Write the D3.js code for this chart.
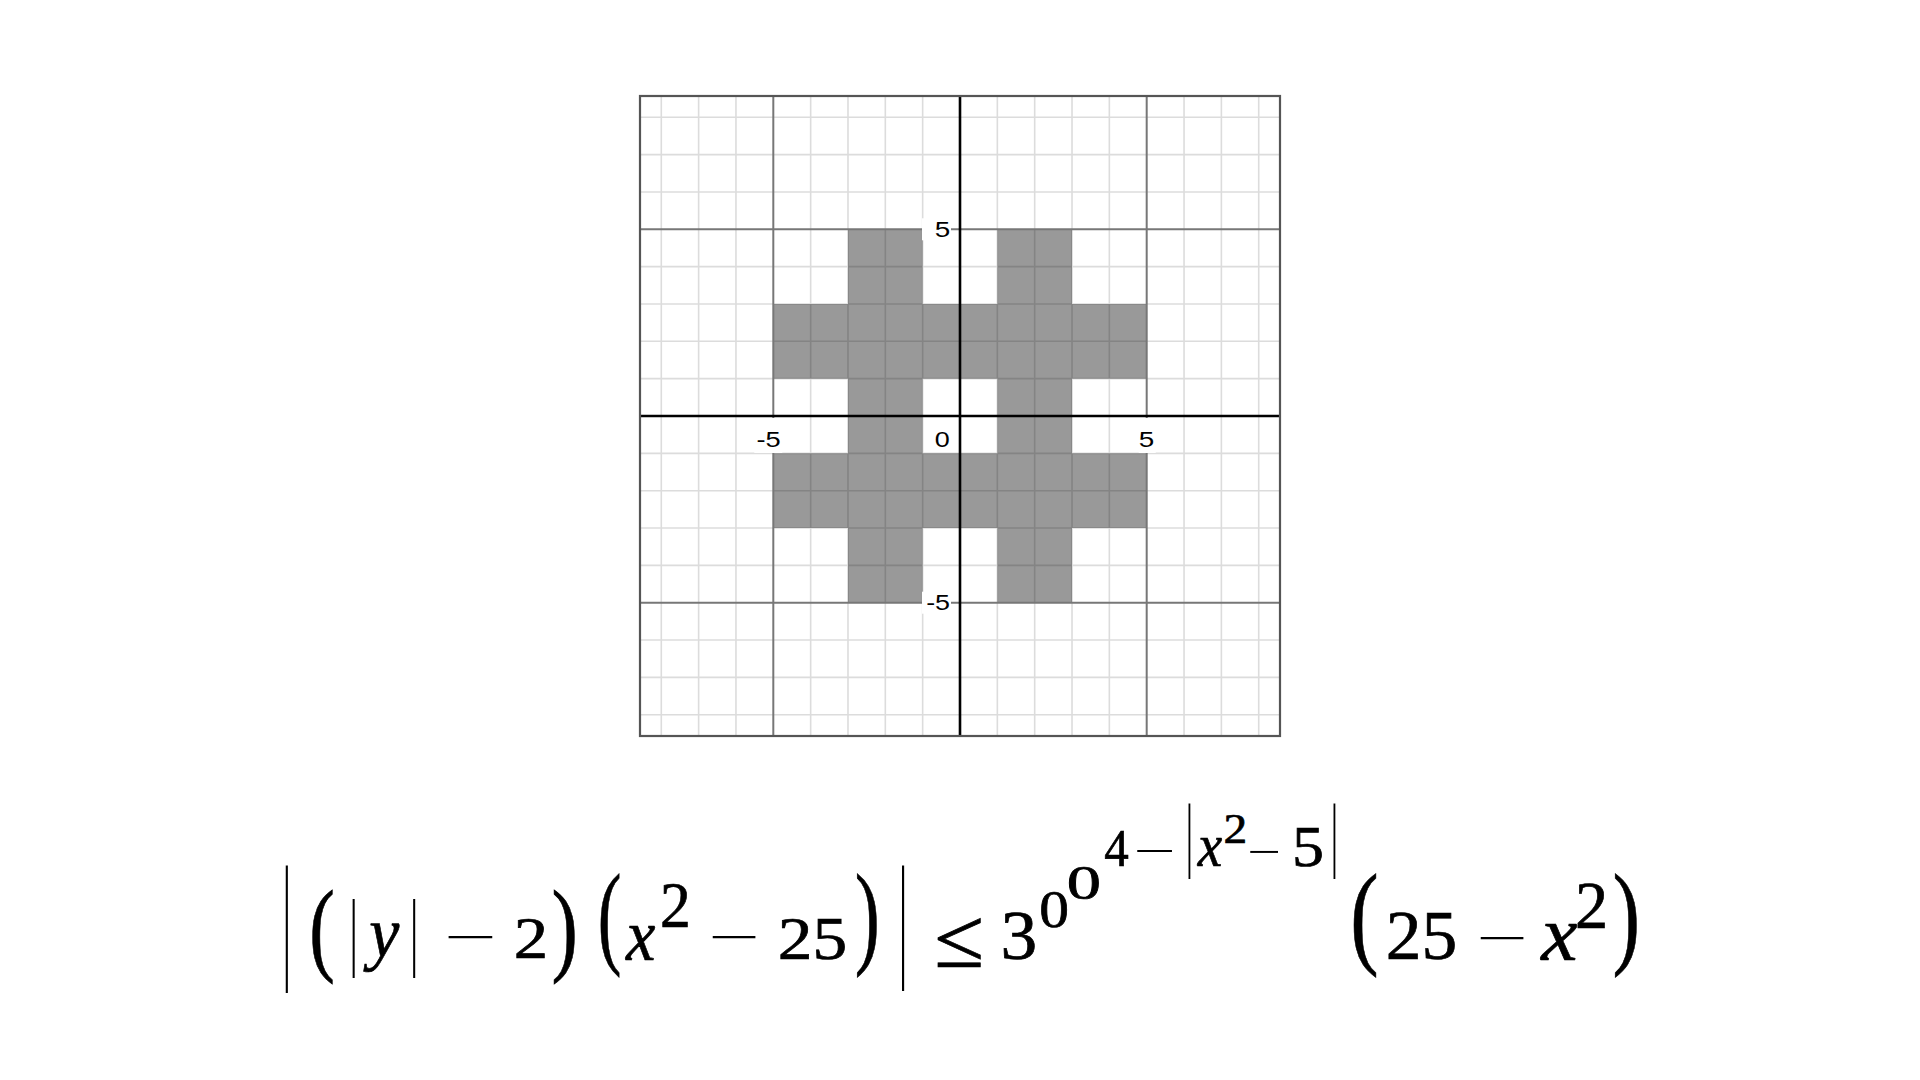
<!DOCTYPE html>
<html><head><meta charset="utf-8">
<script src="https://cdn.jsdelivr.net/npm/d3@7"></script>
<style>html,body{margin:0;padding:0;background:#fff;}svg{display:block;}</style>
</head><body>
<svg id="chart" width="1920" height="1080"></svg>
<script>
// ---------- data ----------
const xDomain = [-8.57, 8.57];
const yDomain = [-8.57, 8.57];
const minorTicks = [-8,-7,-6,-4,-3,-2,-1,1,2,3,4,6,7,8];
const majorTicks = [-5, 5];
const xTickLabels = [-5, 0, 5];
const yTickLabels = [5, -5];
// shaded "#" region: vertical bars (x ranges over y range) and horizontal strips (y ranges over x range)
const barXRanges = [[-3, -1], [1, 3]];
const barYRange = [-5, 5];
const stripYRanges = [[1, 3], [-3, -1]];
const stripXRange = [-5, 5];

// ---------- helpers ----------
const cv = document.createElement("canvas").getContext("2d");
// draw text so that its ink fills the box [L,R]x[T,B]
function fitText(parent, t, family, italic, L, T, R, B) {
  cv.font = (italic ? "italic " : "") + "1000px '" + family + "'";
  const m = cv.measureText(t);
  const asc = m.actualBoundingBoxAscent, desc = m.actualBoundingBoxDescent;
  const left = -m.actualBoundingBoxLeft, right = m.actualBoundingBoxRight;
  const s = (B - T) / (asc + desc);
  const kx = (R - L) / ((right - left) * s);
  const tx = L - kx * left * s;
  const ty = T + asc * s;
  return parent.append("text").attr("font-family", "'" + family + "'")
    .attr("font-style", italic ? "italic" : "normal")
    .attr("font-size", 1000 * s)
    .attr("transform", `translate(${tx},${ty}) scale(${kx},1)`)
    .text(t);
}

// ---------- drawing ----------
const svg = d3.select("#chart");
svg.append("rect").attr("width",1920).attr("height",1080).attr("fill","#fff");
const x = d3.scaleLinear().domain(xDomain).range([640, 1280]);
const y = d3.scaleLinear().domain(yDomain).range([736, 96]);

const g = svg.append("g");
// minor grid
g.selectAll(".vmin").data(minorTicks).join("line")
  .attr("x1", d=>x(d)).attr("x2", d=>x(d)).attr("y1", y(yDomain[1])).attr("y2", y(yDomain[0]))
  .attr("stroke","#dcdcdc").attr("stroke-width",1.6);
g.selectAll(".hmin").data(minorTicks).join("line")
  .attr("y1", d=>y(d)).attr("y2", d=>y(d)).attr("x1", x(xDomain[0])).attr("x2", x(xDomain[1]))
  .attr("stroke","#dcdcdc").attr("stroke-width",1.6);
// shaded region (single path → union painted once)
const p = d3.path();
function addRect(x0,x1,y0,y1){
  p.moveTo(x(x0), y(y1)); p.lineTo(x(x1), y(y1)); p.lineTo(x(x1), y(y0)); p.lineTo(x(x0), y(y0)); p.closePath();
}
barXRanges.forEach(r => addRect(r[0], r[1], barYRange[0], barYRange[1]));
stripYRanges.forEach(r => addRect(stripXRange[0], stripXRange[1], r[0], r[1]));
g.append("path").attr("d", p.toString()).attr("fill","#000").attr("fill-opacity",0.4).attr("fill-rule","nonzero");
// major grid
g.selectAll(".vmaj").data(majorTicks).join("line")
  .attr("x1", d=>x(d)).attr("x2", d=>x(d)).attr("y1", y(yDomain[1])).attr("y2", y(yDomain[0]))
  .attr("stroke","#777").attr("stroke-width",2);
g.selectAll(".hmaj").data(majorTicks).join("line")
  .attr("y1", d=>y(d)).attr("y2", d=>y(d)).attr("x1", x(xDomain[0])).attr("x2", x(xDomain[1]))
  .attr("stroke","#777").attr("stroke-width",2);

// axes
g.append("line").attr("x1", x(0)).attr("x2", x(0)).attr("y1", y(yDomain[1])).attr("y2", y(yDomain[0])).attr("stroke","#000").attr("stroke-width",2.6);
g.append("line").attr("y1", y(0)).attr("y2", y(0)).attr("x1", x(xDomain[0])).attr("x2", x(xDomain[1])).attr("stroke","#000").attr("stroke-width",2.6);
// border
svg.append("rect").attr("x", x(xDomain[0])).attr("y", y(yDomain[1]))
  .attr("width", x(xDomain[1]) - x(xDomain[0])).attr("height", y(yDomain[0]) - y(yDomain[1]))
  .attr("fill","none").attr("stroke","#555").attr("stroke-width",2.2);

// tick labels with white backgrounds
const lab = svg.append("g").attr("fill","#000");
const fmt = v => (v < 0 ? "-" + Math.abs(v) : String(v));
xTickLabels.forEach(v => {
  const cx = x(v), by = y(0);
  if (v !== 0) {
    lab.append("rect").attr("x", cx - (v<0?19:8)).attr("y", by + 2).attr("width", v<0?28:17).attr("height", 35).attr("fill","#fff");
  }
  const R = v === 0 ? cx - 11 : cx + 6.3;
  const L = v < 0 ? R - 22.3 : R - 13.5;
  fitText(lab, fmt(v), "Liberation Sans", false, L, by + 15, R, by + 31.5);
});
yTickLabels.forEach(v => {
  const cy = y(v);
  lab.append("rect").attr("x", 922).attr("y", cy - 11).attr("width", 29).attr("height", 22).attr("fill","#fff");
  const R = x(0) - 11;
  const L = v < 0 ? R - 22 : R - 13.5;
  fitText(lab, fmt(v), "Liberation Sans", false, L, cy - 8.5, R, cy + 8);
});

// ---------- formula (glyphs fitted to ink boxes: text, italic, left, top, right, bottom) ----------
const formulaLayout = [
  ["|",0,285.3,865,288.0,993], ["(",0,311.7,890,333.3,985], ["|",0,352.0,898,354.6,978],
  ["y",1,363,923,400,973], ["|",0,412.7,898,415.3,978], ["\u2212",0,448,935.8,492,938.8],
  ["2",0,516,918,545,958], [")",0,554,890,575,985], ["(",0,600,872,620,978],
  ["x",1,625,925,655,960], ["2",0,662,883,688,927], ["\u2212",0,712,935.5,755,938.5],
  ["25",0,780,918,845,960], [")",0,857,872,877,978], ["|",0,901.4,865,904.1,992],
  ["\u2264",0,937,918,981,967], ["3",0,1004,912,1035,960], ["0",0,1041,892,1067,928],
  ["0",0,1069,867,1099,900], ["4",0,1105,830,1128,866], ["\u2212",0,1137,849.5,1172,852],
  ["|",0,1188,803,1190.3,879], ["x",1,1197,837,1222,866], ["2",0,1225,815,1245,843],
  ["\u2212",0,1250,851,1278,853.5], ["5",0,1295,828,1322,867], ["|",0,1333,803,1335.3,879],
  ["(",0,1353,872,1377,978], ["25",0,1388,912,1455,960], ["\u2212",0,1480,936.5,1523,939.5],
  ["x",1,1540,923,1577,960], ["2",0,1577,883,1605,928], [")",0,1615,872,1637,978]
];
const fg = svg.append("g").attr("fill","#000");
formulaLayout.forEach(([t, it, L, T, R, B]) => {
  const el = fitText(fg, t, "Liberation Serif", it, L, T, R, B);
  if (t !== "\u2212" && t !== "|") el.attr("stroke","#000").attr("stroke-width",0.7);
});
</script>
</body></html>
